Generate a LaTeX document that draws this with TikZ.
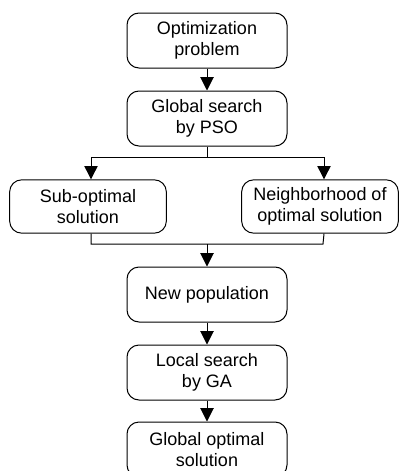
\documentclass[tikz,border=0pt]{standalone}
\usepackage{fontspec}
\setmainfont{Liberation Sans}
\usetikzlibrary{arrows.meta}
\begin{document}
\begin{tikzpicture}[x=0.75pt,y=-0.75pt,
  box/.style={draw, line width=0.75pt, rounded corners=9pt, minimum width=120pt, minimum height=41.25pt, align=center, inner sep=0pt, font=\fontsize{13.5}{15.75}\selectfont},
  wbox/.style={box, minimum width=117.5pt, minimum height=40pt},
  conn/.style={line width=0.75pt},
  arr/.style={conn, -{Triangle[length=10pt,width=10pt]}}]
\clip (0,0) rectangle (399,471);
\useasboundingbox (0,0) rectangle (399,471);
\node[box] (opt) at (207,40.5) {Optimization\\problem};
\node[box] (pso) at (207,118.5) {Global search\\by PSO};
\node[wbox] (sub) at (88,206.5) {Sub-optimal\\solution};
\node[wbox] (nbh) at (320,206.5) {Neighborhood of\\optimal solution};
\node[box] (newp) at (207,294.5) {New population};
\node[box] (ga) at (207,372.5) {Local search\\by GA};
\node[box] (gopt) at (207,449.5) {Global optimal\\solution};
\coordinate (split) at (207,157);
\coordinate (merge) at (207,244);
\coordinate (sl) at (91,157);
\coordinate (sr) at (324,157);
\coordinate (ml) at (91,244);
\coordinate (mr) at (323,244);
\draw[arr] (opt) -- (pso);
\draw[conn] (pso.south) -- (split);
\draw[arr] (split) -- (sl) -- (sl |- sub.north);
\draw[arr] (split) -- (sr) -- (sr |- nbh.north);
\draw[conn] (sl |- sub.south) -- (ml) -- (mr) -- (sr |- nbh.south);
\draw[arr] (merge) -- (newp.north);
\draw[arr] (newp) -- (ga);
\draw[arr] (ga) -- (gopt);
\end{tikzpicture}
\end{document}
